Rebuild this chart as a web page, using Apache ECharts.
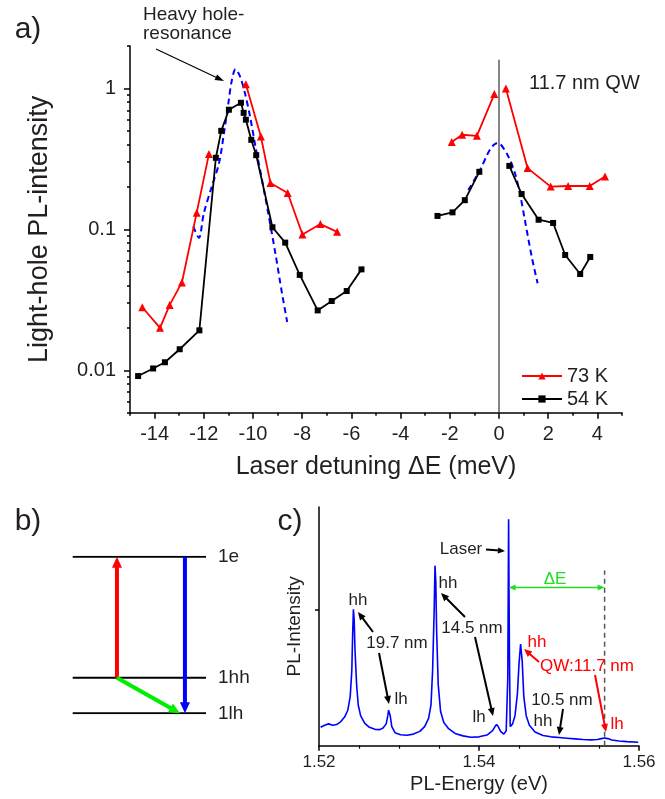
<!DOCTYPE html>
<html>
<head>
<meta charset="utf-8">
<script src="https://cdn.jsdelivr.net/npm/echarts@6/dist/echarts.min.js"></script>
<style>html,body{margin:0;padding:0;background:#fff}#c{width:665px;height:799px}</style>
</head>
<body>
<div id="c"></div>
<script>
// ---------- Panel a data ----------
const xTicksA = [-14, -12, -10, -8, -6, -4, -2, 0, 2, 4];
const xMinorA = [-15, -13, -11, -9, -7, -5, -3, -1, 1, 3, 5];
const yLabelsA = [0.01, 0.1, 1];
const yMinorA = [0.005, 0.006, 0.007, 0.008, 0.009, 0.02, 0.03, 0.04, 0.05, 0.06, 0.07, 0.08, 0.09,
                 0.2, 0.3, 0.4, 0.5, 0.6, 0.7, 0.8, 0.9, 2];

const x73 = [-14.5, -13.78, -13.39, -12.89, -12.29, -11.79, null, -10.29, -9.68, -9.29, -8.59, -7.99, -7.26, -6.58,
             null, -1.92, -1.50, -0.90, -0.19, null, 0.28, 1.16, 2.10, 2.81, 3.69, 4.31];
const y73 = [0.028, 0.020, 0.029, 0.042, 0.131, 0.343, null, 1.07, 0.456, 0.213, 0.181, 0.092, 0.109, 0.096,
             null, 0.416, 0.469, 0.461, 0.912, null, 1.00, 0.272, 0.201, 0.203, 0.203, 0.237];

const x54 = [-14.67, -14.06, -13.58, -12.98, -12.18, -11.51, -11.29, -10.98, -10.49, -10.38, -10.29, -10.07, -9.87,
             -9.21, -8.69, -8.10, -7.37, -6.80, -6.19, -5.59, null, -2.50, -1.89, -1.39, -0.80, null,
             0.42, 0.92, 1.61, 2.20, 2.69, 3.30, 3.71];
const y54 = [0.0091, 0.0103, 0.0114, 0.0141, 0.0192, 0.322, 0.50, 0.706, 0.791, 0.671, 0.600, 0.432, 0.336,
             0.1035, 0.0805, 0.0475, 0.0266, 0.031, 0.0365, 0.052, null, 0.1245, 0.132, 0.161, 0.256, null,
             0.282, 0.178, 0.117, 0.111, 0.0658, 0.0482, 0.0637];

const xTheory = [-12.43, -12.2, -12.0, -11.68, -11.38, -11.18, -11.0, -10.87, -10.71, -10.53, -10.33, -10.12,
                 -9.90, -9.66, -9.38, -9.09, -8.82, -8.61, null,
                 -1.25, -0.77, -0.37, -0.09, 0.04, 0.38, 0.65, 0.85, 1.05, 1.33, 1.57];
const yTheory = [0.105, 0.087, 0.13, 0.20, 0.295, 0.482, 0.787, 1.12, 1.37, 1.22, 0.93, 0.632,
                 0.387, 0.237, 0.13, 0.0676, 0.0351, 0.022, null,
                 0.19, 0.264, 0.367, 0.409, 0.405, 0.329, 0.25, 0.18, 0.117, 0.064, 0.0414];

const zeroLineX = [0, 0];
const zeroLineY = [0.005, 1.6];

// ---------- Panel b data ----------
const levelNames = ['1e', '1hh', '1lh'];
const levelEnergy = [1, 0.227, 0];
const redArrow = [[0.332, 0.227], [0.332, 1]];
const blueArrow = [[0.842, 1], [0.842, 0]];
const greenArrow = [[0.332, 0.227], [0.805, 0]];

// ---------- Panel c data ----------
const xLabelsC = [1.52, 1.54, 1.56];
const xMinorC = [1.525, 1.53, 1.535, 1.545, 1.55, 1.555];
const yTicksC = [1];
const specE = [1.5202, 1.5207, 1.5212, 1.5217, 1.5222, 1.5227, 1.5232, 1.5236, 1.5239, 1.5241, 1.5242, 1.5243,
  1.5244, 1.5245, 1.5247, 1.5249, 1.5252, 1.5257, 1.5263, 1.5270, 1.5276, 1.5280, 1.5284, 1.5286, 1.5287,
  1.5289, 1.5291, 1.5295, 1.5302, 1.5310, 1.5318, 1.5326, 1.5332, 1.5337, 1.5340, 1.5342, 1.5344, 1.5345,
  1.5346, 1.5347, 1.5349, 1.5352, 1.5356, 1.5362, 1.5370, 1.5380, 1.5390, 1.5400, 1.5410, 1.5417, 1.5420,
  1.5422, 1.5424, 1.5427, 1.5431, 1.5434, 1.5436, 1.5437, 1.5438, 1.5439, 1.5442, 1.5445, 1.5448, 1.5450,
  1.5452, 1.5454, 1.5456, 1.5459, 1.5463, 1.5470, 1.5480, 1.5490, 1.5500, 1.5510, 1.5520, 1.5530, 1.5540,
  1.5548, 1.5553, 1.5557, 1.5561, 1.5566, 1.5575, 1.5585, 1.5599];
const specI = [0.135, 0.150, 0.160, 0.150, 0.155, 0.175, 0.21, 0.26, 0.36, 0.55, 0.80, 1.00,
  0.92, 0.70, 0.45, 0.30, 0.22, 0.165, 0.135, 0.120, 0.118, 0.13, 0.16, 0.22, 0.26,
  0.22, 0.14, 0.095, 0.08, 0.077, 0.085, 0.105, 0.14, 0.20, 0.30, 0.55, 1.00, 1.32,
  1.20, 0.85, 0.45, 0.25, 0.17, 0.125, 0.09, 0.072, 0.062, 0.065, 0.078, 0.11, 0.14,
  0.155, 0.14, 0.105, 0.085, 0.11, 0.5, 1.66, 0.7, 0.14, 0.16, 0.22, 0.38, 0.60,
  0.745, 0.62, 0.36, 0.22, 0.15, 0.10, 0.075, 0.065, 0.06, 0.055, 0.05, 0.045, 0.043,
  0.045, 0.052, 0.057, 0.052, 0.042, 0.035, 0.03, 0.025];
const laserE = 1.5437;
const lhQWE = 1.5557;
const dashTopI = 1.285;
const deltaArrowI = 1.16;

// ---------- helpers ----------
const FONT = 'Liberation Sans, Arial, sans-serif';
const TXT = '#231f20';
const pairs = (xs, ys) => xs.map((x, i) => (x === null || ys[i] === null) ? ['-', '-'] : [x, ys[i]]);

const chart = echarts.init(document.getElementById('c'), null, {renderer: 'canvas'});

const option = {
  animation: false,
  backgroundColor: '#fff',
  textStyle: {fontFamily: FONT, color: TXT},
  grid: [
    {left: 130, top: 46, width: 492, height: 366.7},
    {left: 319, top: 507, width: 320, height: 238.7},
    {left: 72.7, top: 556.7, width: 133.3, height: 156.6}
  ],
  legend: {
    data: ['73 K', '54 K'], orient: 'vertical', left: 516, top: 361, itemWidth: 40, itemHeight: 9, itemGap: 3,
    textStyle: {fontSize: 20, color: TXT, fontFamily: FONT}
  },
  xAxis: [
    {gridIndex: 0, type: 'value', min: -15, max: 5, position: 'bottom',
     axisLine: {onZero: false, lineStyle: {color: '#000', width: 1.5}},
     axisTick: {customValues: xTicksA, length: 6, lineStyle: {color: '#000', width: 1.5}},
     axisLabel: {customValues: xTicksA, fontSize: 20, margin: 12, color: TXT, fontFamily: FONT},
     splitLine: {show: false},
     name: 'Laser detuning ΔE (meV)', nameLocation: 'middle', nameGap: 42,
     nameTextStyle: {fontSize: 25, color: TXT, fontFamily: FONT}},
    {gridIndex: 0, type: 'value', min: -15, max: 5, position: 'bottom',
     axisLine: {show: false, onZero: false},
     axisTick: {customValues: xMinorA, length: 3, lineStyle: {color: '#000', width: 1.5}},
     axisLabel: {show: false}, splitLine: {show: false}},
    {gridIndex: 1, type: 'value', min: 1.52, max: 1.56, position: 'bottom',
     axisLine: {onZero: false, lineStyle: {color: '#000', width: 1.5}},
     axisTick: {customValues: xLabelsC, length: 5, lineStyle: {color: '#000', width: 1.5}},
     axisLabel: {customValues: xLabelsC, fontSize: 17, margin: 8, color: TXT, fontFamily: FONT,
                 formatter: v => Number(v).toFixed(2)},
     splitLine: {show: false},
     name: 'PL-Energy (eV)', nameLocation: 'middle', nameGap: 29,
     nameTextStyle: {fontSize: 20, color: TXT, fontFamily: FONT}},
    {gridIndex: 1, type: 'value', min: 1.52, max: 1.56, position: 'bottom',
     axisLine: {show: false, onZero: false},
     axisTick: {customValues: xMinorC, length: 3, lineStyle: {color: '#000', width: 1.2}},
     axisLabel: {show: false}, splitLine: {show: false}},
    {gridIndex: 2, type: 'value', min: 0, max: 1, show: false}
  ],
  yAxis: [
    {gridIndex: 0, type: 'log', logBase: 10, min: 0.005, max: 2, position: 'left',
     axisLine: {show: true, onZero: false, lineStyle: {color: '#000', width: 1.5}},
     axisTick: {show: true, customValues: yLabelsA, length: 6, lineStyle: {color: '#000', width: 1.5}},
     axisLabel: {customValues: yLabelsA, fontSize: 20, margin: 14, color: TXT, fontFamily: FONT,
                 formatter: v => String(Number(v))},
     splitLine: {show: false}, minorTick: {show: false},
     name: 'Light-hole PL-intensity', nameLocation: 'middle', nameGap: 77,
     nameTextStyle: {fontSize: 27, color: TXT, fontFamily: FONT}},
    {gridIndex: 0, type: 'log', logBase: 10, min: 0.005, max: 2, position: 'left',
     axisLine: {show: false, onZero: false},
     axisTick: {show: true, customValues: yMinorA, length: 3, lineStyle: {color: '#000', width: 1.5}},
     axisLabel: {show: false}, splitLine: {show: false}},
    {gridIndex: 1, type: 'value', min: 0, max: 1.75, position: 'left',
     axisLine: {show: true, onZero: false, lineStyle: {color: '#000', width: 1.5}},
     axisTick: {show: true, customValues: yTicksC, length: 4, lineStyle: {color: '#000', width: 1.5}},
     axisLabel: {show: false}, splitLine: {show: false},
     name: 'PL-Intensity', nameLocation: 'middle', nameGap: 15,
     nameTextStyle: {fontSize: 19, color: TXT, fontFamily: FONT}},
    {gridIndex: 2, type: 'value', min: 0, max: 1, show: false}
  ],
  series: [
    {type: 'line', name: 'zero', xAxisIndex: 0, yAxisIndex: 0, data: pairs(zeroLineX, zeroLineY),
     symbol: 'none', lineStyle: {color: '#444', width: 1.3}, silent: true, z: 1},
    {type: 'line', name: 'theory', xAxisIndex: 0, yAxisIndex: 0, data: pairs(xTheory, yTheory),
     symbol: 'none', smooth: 0.3, connectNulls: false,
     lineStyle: {color: '#0000ff', width: 2, type: [6, 4]}, z: 2},
    {type: 'line', name: '54 K', xAxisIndex: 0, yAxisIndex: 0, data: pairs(x54, y54),
     symbol: 'rect', symbolSize: 6, connectNulls: false,
     lineStyle: {color: '#000', width: 1.8}, itemStyle: {color: '#000'}, z: 3},
    {type: 'line', name: '73 K', xAxisIndex: 0, yAxisIndex: 0, data: pairs(x73, y73),
     symbol: 'triangle', symbolSize: 8, connectNulls: false,
     lineStyle: {color: '#ff0000', width: 1.8}, itemStyle: {color: '#ff0000'}, z: 4},
    {type: 'line', name: 'spectrum', xAxisIndex: 2, yAxisIndex: 2, data: pairs(specE, specI),
     symbol: 'none', lineStyle: {color: '#0000ff', width: 1.6}, z: 3},
    {type: 'line', name: 'lhmark', xAxisIndex: 2, yAxisIndex: 2, data: [[lhQWE, 0], [lhQWE, dashTopI]],
     symbol: 'none', lineStyle: {color: '#555', width: 1.5, type: [5, 4]}, z: 2},
  ].concat(levelNames.map((nm, i) => ({
    type: 'line', name: nm, xAxisIndex: 4, yAxisIndex: 3, data: [[0, levelEnergy[i]], [1, levelEnergy[i]]],
    symbol: 'none', lineStyle: {color: '#000', width: 2},
    endLabel: {show: true, formatter: nm, fontSize: 19, color: TXT, fontFamily: FONT, distance: 12}
  })))
};
chart.setOption(option);

// ---------- annotations ----------
function arrow(p1, p2, color, w, hl, hw, both) {
  const dx = p2[0] - p1[0], dy = p2[1] - p1[1], L = Math.hypot(dx, dy), ux = dx / L, uy = dy / L;
  const nx = -uy, ny = ux;
  const head = (tip, sx, sy) => {
    const bx = tip[0] - sx * hl, by = tip[1] - sy * hl;
    return {type: 'polygon', silent: true, z: 100,
      shape: {points: [[tip[0], tip[1]], [bx + nx * hw / 2, by + ny * hw / 2], [bx - nx * hw / 2, by - ny * hw / 2]]},
      style: {fill: color}};
  };
  const s = both ? [p1[0] + ux * hl * 0.8, p1[1] + uy * hl * 0.8] : p1;
  const e = [p2[0] - ux * hl * 0.8, p2[1] - uy * hl * 0.8];
  const out = [{type: 'line', silent: true, z: 99, shape: {x1: s[0], y1: s[1], x2: e[0], y2: e[1]},
                style: {stroke: color, lineWidth: w}}, head(p2, ux, uy)];
  if (both) out.push(head(p1, -ux, -uy));
  return out;
}
function txt(t, x, y, size, color, align) {
  return {type: 'text', silent: true, z: 100, x: x, y: y,
    style: {text: t, fontSize: size, fontFamily: FONT, fill: color || TXT, align: align || 'center', verticalAlign: 'middle'}};
}
const pb = p => chart.convertToPixel({xAxisIndex: 4, yAxisIndex: 3}, p);
const pc = p => chart.convertToPixel({xAxisIndex: 2, yAxisIndex: 2}, p);

let g = [];
// panel labels
g.push(txt('a)', 28, 30, 30));
g.push(txt('b)', 28, 522, 30));
g.push(txt('c)', 290, 522, 30));
// panel a
g.push(txt('Heavy hole-', 143, 15, 19, TXT, 'left'));
g.push(txt('resonance', 143, 34, 19, TXT, 'left'));
g = g.concat(arrow([156, 49], [224, 81], '#000', 1.2, 9, 6));
g.push(txt('11.7 nm QW', 529, 83, 20, TXT, 'left'));
// panel b transitions
g = g.concat(arrow(pb(redArrow[0]), pb(redArrow[1]), '#ff0000', 4, 11, 10));
g = g.concat(arrow(pb(blueArrow[0]), pb(blueArrow[1]), '#0000ff', 4, 11, 10));
g = g.concat(arrow(pb(greenArrow[0]), pb(greenArrow[1]), '#00ee00', 4, 11, 10));
// panel c
g = g.concat(arrow(pc([laserE, deltaArrowI]), pc([lhQWE, deltaArrowI]), '#22dd22', 1.4, 7, 6, true));
g.push(txt('ΔE', 555, 579, 17, '#22dd22'));
g.push(txt('Laser', 461, 549, 17));
g = g.concat(arrow([486, 549.5], [505, 551], '#000', 2, 7, 6));
g.push(txt('hh', 358, 600, 17));
g = g.concat(arrow([373, 632], [358, 612], '#000', 2, 8, 7));
g.push(txt('19.7 nm', 397, 643, 17));
g = g.concat(arrow([379, 653], [389, 704], '#000', 2, 8, 7));
g.push(txt('lh', 401, 699, 17));
g.push(txt('hh', 448, 583, 17));
g = g.concat(arrow([465, 617], [441, 593], '#000', 2, 8, 7));
g.push(txt('14.5 nm', 472, 628, 17));
g = g.concat(arrow([475, 637], [493, 716], '#000', 2, 8, 7));
g.push(txt('lh', 479, 717, 17));
g.push(txt('hh', 537, 642, 17, '#ff0000'));
g = g.concat(arrow([539, 662], [524, 649], '#ff0000', 2, 8, 7));
g.push(txt('QW:11.7 nm', 587, 666, 17, '#ff0000'));
g = g.concat(arrow([595, 675], [606, 732], '#ff0000', 2, 8, 7));
g.push(txt('lh', 617, 724, 17, '#ff0000'));
g.push(txt('10.5 nm', 562, 700, 17));
g.push(txt('hh', 543, 721, 17));
g = g.concat(arrow([563, 709], [559, 735], '#000', 2, 8, 7));

chart.setOption({graphic: g});
</script>
</body>
</html>
